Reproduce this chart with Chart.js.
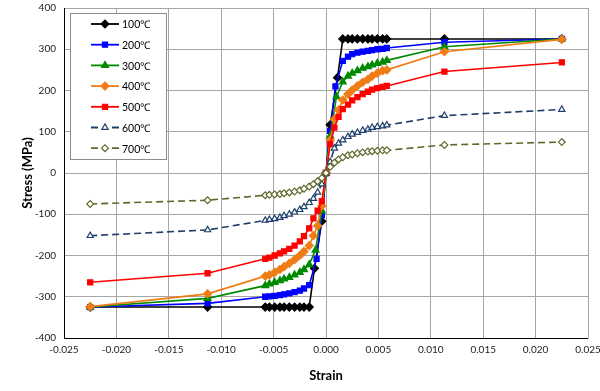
<!DOCTYPE html>
<html>
<head>
<meta charset="utf-8">
<script src="https://cdn.jsdelivr.net/npm/chart.js@4/dist/chart.umd.min.js"></script>
<style>
html,body{margin:0;padding:0;background:#fff;}
#wrap{width:600px;height:391px;}
</style>
</head>
<body>
<div id="wrap"><canvas id="c" width="600" height="391"></canvas></div>
<script>
// ---- data ----
const seriesNames = ["100℃","200℃","300℃","400℃","500℃","600℃","700℃"];

const strain100 = [-0.0225,-0.0113,-0.0058,-0.0054,-0.0049,-0.0044,-0.0040,-0.0035,-0.0030,-0.0025,-0.0021,-0.0016,-0.0011,-0.0004,0,0.0004,0.0011,0.0016,0.0021,0.0025,0.0030,0.0035,0.0040,0.0044,0.0049,0.0054,0.0058,0.0113,0.0225];
const stress100 = [-325,-325,-325,-325,-325,-325,-325,-325,-325,-325,-325,-325,-231,-117,0,117,231,325,325,325,325,325,325,325,325,325,325,325,325];

const strain200 = [-0.0225,-0.0113,-0.0058,-0.0054,-0.0049,-0.0044,-0.0040,-0.0035,-0.0030,-0.0025,-0.0021,-0.0016,-0.0009,-0.0004,0,0.0004,0.0009,0.0016,0.0021,0.0025,0.0030,0.0035,0.0040,0.0044,0.0049,0.0054,0.0058,0.0113,0.0225];
const stress200 = [-325,-316,-300,-299,-298,-296,-294,-292,-289,-285,-280,-272,-208,-102,0,102,210,272,282,288,292,294,296,298,300,301,303,317,325];

const strain300 = [-0.0225,-0.0113,-0.0058,-0.0054,-0.0049,-0.0044,-0.0040,-0.0035,-0.0030,-0.0025,-0.0021,-0.0016,-0.0010,-0.0004,0,0.0004,0.0010,0.0016,0.0021,0.0025,0.0030,0.0035,0.0040,0.0044,0.0049,0.0054,0.0058,0.0113,0.0225];
const stress300 = [-325,-304,-273,-269,-265,-261,-257,-253,-247,-241,-234,-222,-187,-92,0,90,185,221,235,242,248,254,258,262,266,269,273,306,325];

const strainHot = [-0.0225,-0.0113,-0.0058,-0.0054,-0.0049,-0.0044,-0.0040,-0.0035,-0.0030,-0.0025,-0.0021,-0.0016,-0.0012,-0.0008,-0.0004,0,0.0004,0.0008,0.0012,0.0016,0.0021,0.0025,0.0030,0.0035,0.0040,0.0044,0.0049,0.0054,0.0058,0.0113,0.0225];
const stress400 = [-324,-293,-250,-247,-241,-234,-227,-219,-210,-200,-190,-176,-152,-128,-80,0,80,130,153,177,191,201,211,220,227,235,242,248,250,294,324];
const stress500 = [-265,-243,-208,-205,-200,-195,-190,-184,-176,-166,-153,-134,-110,-91,-68,0,70,110,136,155,166,176,184,191,197,202,206,209,211,246,268];
const stress600 = [-152,-138,-115,-113,-111,-108,-104,-100,-95,-89,-82,-72,-62,-47,-27,0,27,60,72,80,88,94,98,103,106,110,112,114,116,139,154];
const stress700 = [-75,-66,-54,-53,-52,-51,-49,-47,-45,-42,-38,-33,-27,-20,-12,0,15,25,33,38,43,45,48,50,52,53,54,55,55,68,75];

const xTickMin = -0.025, xTickMax = 0.025, xTickStep = 0.005;
const yTickMin = -400, yTickMax = 400, yTickStep = 100;

// ---- build datasets ----
function pts(xs, ys){ return xs.map((x,i)=>({x:x, y:ys[i]})); }
const styles = [
  {c:'#000000', ps:'rectRot', r:4,   fill:true,  dash:[]},
  {c:'#0000FF', ps:'rect',    r:3.6, fill:true,  dash:[]},
  {c:'#008A00', ps:'triangle',r:4,   fill:true,  dash:[]},
  {c:'#F07C16', ps:'rectRot', r:4,   fill:true,  dash:[]},
  {c:'#FF0000', ps:'rect',    r:3.6, fill:true,  dash:[]},
  {c:'#1F3F6B', ps:'triangle',r:3.6, fill:false, dash:[7,4]},
  {c:'#5B6B2A', ps:'rectRot', r:3.4, fill:false, dash:[7,4]}
];
const dataSets = [
  pts(strain100, stress100), pts(strain200, stress200), pts(strain300, stress300),
  pts(strainHot, stress400), pts(strainHot, stress500), pts(strainHot, stress600), pts(strainHot, stress700)
];
const datasets = dataSets.map((d,i)=>({
  label: seriesNames[i],
  data: d,
  borderColor: styles[i].c,
  backgroundColor: styles[i].fill ? styles[i].c : '#FFFFFF',
  pointBorderColor: styles[i].c,
  pointBackgroundColor: styles[i].fill ? styles[i].c : '#FFFFFF',
  pointStyle: styles[i].ps,
  pointRadius: styles[i].r,
  pointBorderWidth: 1.2,
  borderWidth: 1.6,
  borderDash: styles[i].dash,
  showLine: true,
  tension: 0,
  order: 7 - i
}));

// ---- legend drawn inside the plot ----
const insideLegend = {
  id: 'insideLegend',
  afterDraw(chart){
    const ctx = chart.ctx;
    const bx = 70, by = 13, bw = 96, bh = 146;
    ctx.save();
    ctx.fillStyle = '#FFFFFF';
    ctx.fillRect(bx, by, bw, bh);
    ctx.strokeStyle = '#8C8C8C';
    ctx.lineWidth = 1;
    ctx.strokeRect(bx + 0.5, by + 0.5, bw, bh);
    ctx.font = '10.5px Lato, "Open Sans", sans-serif';
    ctx.textBaseline = 'middle';
    ctx.textAlign = 'left';
    chart.data.datasets.forEach((ds, i) => {
      const y = 24 + i * 20.7;
      ctx.strokeStyle = ds.borderColor;
      ctx.lineWidth = 1.8;
      ctx.beginPath();
      if (ds.borderDash.length) { ctx.moveTo(91, y); ctx.lineTo(98, y); ctx.moveTo(112, y); ctx.lineTo(119, y); }
      else { ctx.moveTo(91, y); ctx.lineTo(119, y); }
      ctx.stroke();
      ctx.fillStyle = ds.pointBackgroundColor;
      ctx.strokeStyle = ds.pointBorderColor;
      ctx.lineWidth = 1.2;
      Chart.helpers.drawPoint(ctx, {pointStyle: ds.pointStyle, radius: ds.pointRadius, rotation: 0, borderWidth: 1.2}, 105, y);
      ctx.fillStyle = '#000000';
      ctx.fillText(ds.label, 122, y + 1);
    });
    ctx.restore();
  }
};

const frame = {
  id: 'frame',
  afterDatasetsDraw(chart){
    const a = chart.chartArea, ctx = chart.ctx;
    ctx.save();
    ctx.strokeStyle = '#000000';
    ctx.lineWidth = 1;
    ctx.beginPath();
    ctx.moveTo(Math.round(a.left)+0.5, a.top);
    ctx.lineTo(Math.round(a.left)+0.5, Math.round(a.bottom)+0.5);
    ctx.lineTo(a.right, Math.round(a.bottom)+0.5);
    ctx.stroke();
    ctx.restore();
  }
};

Chart.defaults.font.family = 'Lato, "Open Sans", sans-serif';
Chart.defaults.color = '#222222';

new Chart(document.getElementById('c'), {
  type: 'scatter',
  data: { datasets: datasets },
  options: {
    responsive: false,
    animation: false,
    devicePixelRatio: 1,
    layout: { padding: { top: 8, right: 12, bottom: 0, left: 0 } },
    plugins: { legend: { display: false }, tooltip: { enabled: false } },
    scales: {
      x: {
        type: 'linear',
        min: xTickMin, max: xTickMax,
        ticks: {
          stepSize: xTickStep,
          font: { size: 10 },
          color: '#222222',
          padding: 6,
          maxRotation: 0,
          callback: (v) => (Math.abs(v) < 1e-9 ? 0 : v).toFixed(3)
        },
        grid: { color: '#A6A6A6', lineWidth: 1, drawTicks: false },
        border: { display: true, color: '#A6A6A6' },
        title: { display: true, text: 'Strain', font: { size: 13, weight: 'bold' }, color: '#000000', padding: { top: 0, bottom: 7 } },
        afterFit(scale){ scale.height = 53; scale.paddingRight = 0; scale.paddingLeft = 0; }
      },
      y: {
        type: 'linear',
        min: yTickMin, max: yTickMax,
        ticks: {
          stepSize: yTickStep,
          font: { size: 10 },
          color: '#222222',
          padding: 8
        },
        grid: { color: '#A6A6A6', lineWidth: 1, drawTicks: false },
        border: { display: true, color: '#A6A6A6' },
        title: { display: true, text: 'Stress (MPa)', font: { size: 13, weight: 'bold' }, color: '#000000', padding: { top: 20, bottom: 0 } },
        afterFit(scale){ scale.width = 64; scale.paddingTop = 0; scale.paddingBottom = 0; }
      }
    }
  },
  plugins: [frame, insideLegend]
});
</script>
</body>
</html>
